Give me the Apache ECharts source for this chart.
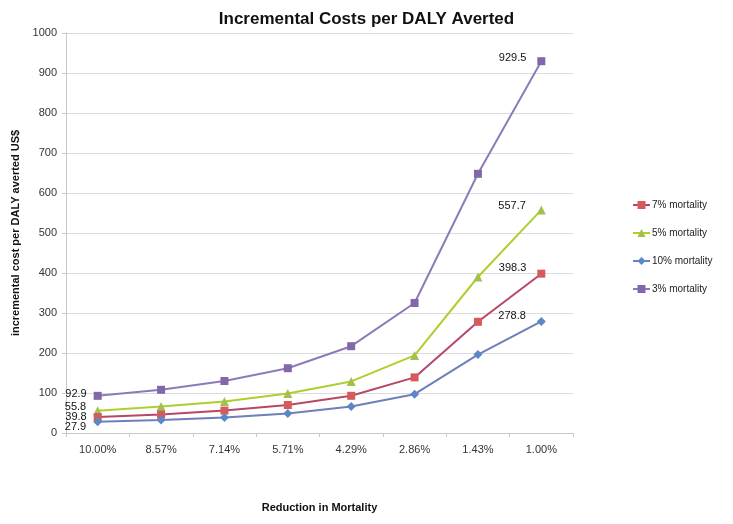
<!DOCTYPE html>
<html><head><meta charset="utf-8">
<script src="https://cdn.jsdelivr.net/npm/echarts@6/dist/echarts.min.js"></script>
<style>html,body{margin:0;padding:0;background:#fff}#c{width:733px;height:524px}</style>
</head><body><div id="c"></div>
<script>
var categories = ['10.00%','8.57%','7.14%','5.71%','4.29%','2.86%','1.43%','1.00%'];
var seriesNames = ['7% mortality','5% mortality','10% mortality','3% mortality'];
var mort7 = [39.8, 46, 56, 70, 93, 139, 278, 398.3];
var mort5 = [55.8, 66, 79, 99, 129, 194, 390, 557.7];
var mort10 = [27.9, 32.5, 39, 49, 66, 97, 196, 278.8];
var mort3 = [92.9, 108, 130, 162, 217, 325, 648, 929.5];

var font = 'Liberation Sans, Arial, sans-serif';
function build(values, firstOffset, lastOffset) {
  return values.map(function (v, i) {
    var item = { value: v };
    if (i === 0) {
      item.label = { show: true, position: 'left', distance: 7, offset: [0, firstOffset] };
    } else if (i === values.length - 1) {
      item.label = { show: true, position: 'left', distance: 11, offset: [0, lastOffset] };
    }
    return item;
  });
}
var lbl = { show: false, color: '#111', fontSize: 11, fontFamily: font, formatter: function (p) { return p.value; } };

var chart = echarts.init(document.getElementById('c'));
chart.setOption({
  animation: false,
  backgroundColor: '#fff',
  title: { text: 'Incremental Costs per DALY Averted', left: 'center', top: 6,
    textStyle: { fontFamily: font, fontSize: 17, fontWeight: 'bold', color: '#111' } },
  grid: { left: 66, right: 160, top: 33, bottom: 91 },
  legend: {
    orient: 'vertical', left: 627, top: 195, itemGap: 18, itemWidth: 17, itemHeight: 10,
    textStyle: { fontFamily: font, fontSize: 10, color: '#222', padding: [0, 0, 0, -3] },
    data: seriesNames
  },
  xAxis: {
    type: 'category', data: categories, boundaryGap: true,
    name: 'Reduction in Mortality', nameLocation: 'middle', nameGap: 69,
    nameTextStyle: { fontFamily: font, fontSize: 11, fontWeight: 'bold', color: '#111' },
    axisLine: { lineStyle: { color: '#c8c8c8' } },
    axisTick: { show: true, alignWithLabel: false, length: 4, lineStyle: { color: '#c8c8c8' } },
    axisLabel: { fontFamily: font, fontSize: 11, color: '#333', margin: 11 }
  },
  yAxis: {
    type: 'value', min: 0, max: 1000, interval: 100,
    name: 'incremental cost per DALY averted US$', nameLocation: 'middle', nameGap: 43,
    nameTextStyle: { fontFamily: font, fontSize: 11, fontWeight: 'bold', color: '#111' },
    axisLine: { show: true, lineStyle: { color: '#c8c8c8' } },
    axisTick: { show: true, length: 4, lineStyle: { color: '#c8c8c8' } },
    axisLabel: { fontFamily: font, fontSize: 11, color: '#333', margin: 9, formatter: function (v) { return String(v); } },
    splitLine: { lineStyle: { color: '#dcdcdc' } }
  },
  series: [
    { name: seriesNames[0], type: 'line', data: build(mort7, 0, -6), symbol: 'rect', symbolSize: 8,
      lineStyle: { color: '#B84766', width: 2 }, itemStyle: { color: '#D45A5C' }, label: lbl, z: 3 },
    { name: seriesNames[1], type: 'line', data: build(mort5, -4, -4), symbol: 'triangle', symbolSize: 9,
      lineStyle: { color: '#AECF2E', width: 2 }, itemStyle: { color: '#A2C04E' }, label: lbl, z: 2 },
    { name: seriesNames[2], type: 'line', data: build(mort10, 5, -6), symbol: 'diamond', symbolSize: 9,
      lineStyle: { color: '#6F7FB9', width: 2 }, itemStyle: { color: '#5A88C6' }, label: lbl, z: 4 },
    { name: seriesNames[3], type: 'line', data: build(mort3, -2, -3), symbol: 'rect', symbolSize: 8,
      lineStyle: { color: '#8A7CB9', width: 2 }, itemStyle: { color: '#8367A8' }, label: lbl, z: 1 }
  ]
});
</script></body></html>
